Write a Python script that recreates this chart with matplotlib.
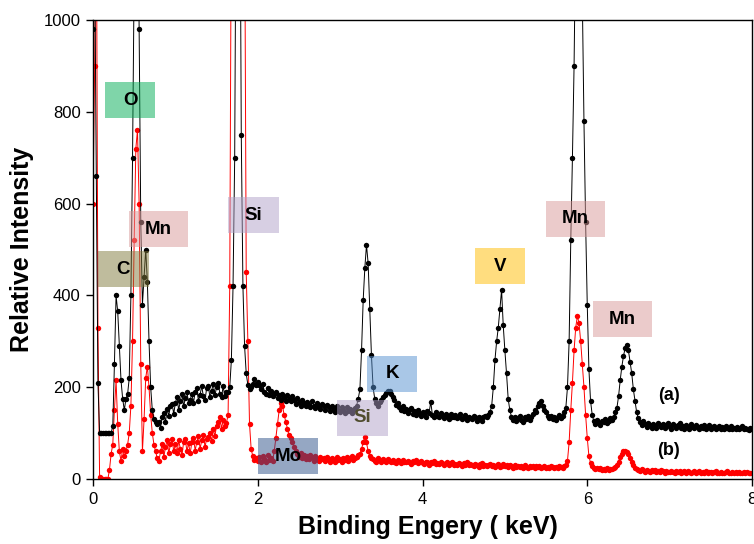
import numpy as np
import matplotlib.pyplot as plt
from matplotlib.patches import Rectangle

plt.rcParams['font.family'] = ['Liberation Sans', 'DejaVu Sans']

# channel energies (keV), one every 0.02 keV
energy = np.round(np.arange(0, 8.001, 0.02), 2)

# spectrum (a) - black, 10 channels per row (0.2 keV)
counts_a = [
    980, 1150, 660, 210, 100, 100, 100, 100, 100, 100,      # 0.0
    100, 100, 115, 250, 400, 365, 290, 215, 175, 150,       # 0.2
    175, 185, 220, 400, 700, 1100, 1600, 1400, 980, 560,    # 0.4
    380, 440, 500, 430, 300, 200, 150, 130, 125, 120,       # 0.6
    125, 112, 136, 144, 124, 152, 138, 160, 164, 142,       # 0.8
    166, 178, 150, 170, 186, 158, 176, 190, 166, 172,       # 1.0
    186, 166, 190, 198, 170, 184, 202, 180, 172, 198,       # 1.2
    202, 178, 192, 208, 182, 200, 210, 186, 178, 202,       # 1.4
    180, 190, 190, 200, 260, 420, 700, 1400, 2200, 1500,    # 1.6
    750, 420, 290, 230, 205, 195, 200, 208, 218, 205,       # 1.8
    212, 204, 196, 208, 190, 186, 198, 184, 192, 180,       # 2.0
    186, 190, 176, 182, 172, 186, 178, 170, 182, 174,       # 2.2
    170, 180, 172, 164, 176, 168, 160, 172, 166, 158,       # 2.4
    168, 162, 156, 170, 160, 154, 166, 160, 152, 164,       # 2.6
    158, 150, 162, 156, 148, 160, 152, 146, 158, 150,       # 2.8
    146, 156, 150, 144, 156, 148, 152, 144, 150, 154,       # 3.0
    160, 175, 195, 280, 390, 460, 510, 470, 370, 270,       # 3.2
    200, 175, 165, 160, 168, 172, 178, 182, 188, 192,       # 3.4
    192, 186, 178, 172, 162, 166, 156, 150, 158, 148,       # 3.6
    152, 144, 150, 154, 142, 148, 140, 150, 144, 138,       # 3.8
    146, 142, 136, 148, 144, 168, 140, 134, 146, 138,       # 4.0
    136, 144, 140, 132, 142, 138, 130, 142, 136, 134,       # 4.2
    140, 132, 136, 142, 130, 134, 140, 128, 136, 132,       # 4.4
    130, 138, 134, 126, 136, 132, 126, 134, 138, 136,       # 4.6
    140, 145, 160, 200, 260, 300, 330, 370, 412, 335,       # 4.8
    280, 230, 175, 150, 136, 128, 134, 126, 132, 138,       # 5.0
    128, 124, 134, 130, 138, 128, 136, 142, 150, 146,       # 5.2
    158, 166, 170, 160, 150, 146, 138, 132, 138, 130,       # 5.4
    136, 128, 134, 140, 132, 138, 145, 155, 200, 300,       # 5.6
    520, 700, 900, 1200, 1500, 1500, 1300, 1050, 780, 560,  # 5.8
    380, 240, 170, 140, 126, 120, 128, 122, 118, 126,       # 6.0
    124, 130, 122, 126, 132, 128, 135, 145, 155, 180,       # 6.2
    215, 245, 268, 285, 292, 280, 255, 230, 195, 170,       # 6.4
    145, 132, 124, 118, 126, 120, 114, 122, 118, 112,       # 6.6
    120, 116, 112, 122, 118, 114, 120, 112, 118, 122,       # 6.8
    114, 110, 120, 116, 112, 118, 122, 112, 116, 110,       # 7.0
    118, 114, 110, 120, 114, 112, 118, 114, 108, 116,       # 7.2
    112, 118, 110, 114, 118, 108, 114, 116, 110, 112,       # 7.4
    116, 110, 114, 108, 116, 112, 110, 116, 108, 112,       # 7.6
    110, 114, 108, 112, 116, 108, 112, 110, 106, 112,       # 7.8
    110,
]

# spectrum (b) - red
counts_b = [
    600, 900, 1300, 330, 5, 0, 0, 0, 0, 0,                  # 0.0
    20, 55, 75, 150, 215, 120, 60, 40, 65, 50,              # 0.2
    60, 75, 100, 160, 300, 520, 720, 760, 600, 250,         # 0.4
    60, 130, 220, 245, 200, 140, 100, 75, 60, 45,           # 0.6
    40, 60, 76, 48, 70, 84, 56, 76, 88, 60,                 # 0.8
    76, 56, 84, 66, 52, 80, 88, 60, 78, 56,                 # 1.0
    80, 90, 62, 80, 94, 66, 84, 96, 70, 88,                 # 1.2
    92, 100, 82, 108, 94, 116, 124, 134, 110, 128,          # 1.4
    115, 122, 140, 420, 1300, 1800, 2100, 2200, 2200, 2000, # 1.6
    1800, 1500, 1300, 450, 300, 120, 65, 50, 42, 45,        # 1.8
    40, 48, 36, 50, 44, 38, 52, 42, 46, 40,                 # 2.0
    60, 90, 120, 150, 165, 160, 140, 125, 110, 95,          # 2.2
    90, 80, 70, 60, 55, 48, 56, 46, 52, 44,                 # 2.4
    50, 44, 52, 48, 40, 50, 44, 40, 48, 44,                 # 2.6
    46, 40, 48, 44, 38, 46, 42, 38, 48, 42,                 # 2.8
    44, 38, 46, 42, 48, 40, 45, 50, 42, 46,                 # 3.0
    48, 52, 55, 65, 80, 92, 80, 60, 50, 46,                 # 3.2
    44, 40, 38, 46, 42, 36, 44, 40, 37, 43,                 # 3.4
    40, 36, 42, 38, 34, 41, 39, 35, 42, 37,                 # 3.6
    36, 40, 38, 33, 39, 36, 41, 34, 37, 39,                 # 3.8
    35, 32, 38, 36, 31, 37, 34, 39, 33, 35,                 # 4.0
    32, 36, 34, 30, 35, 37, 31, 34, 36, 30,                 # 4.2
    33, 30, 35, 32, 29, 34, 31, 36, 30, 32,                 # 4.4
    31, 28, 33, 30, 27, 32, 34, 29, 31, 28,                 # 4.6
    30, 33, 28, 31, 26, 30, 33, 27, 29, 32,                 # 4.8
    28, 30, 26, 31, 28, 25, 30, 27, 29, 26,                 # 5.0
    28, 25, 30, 27, 24, 29, 26, 28, 25, 29,                 # 5.2
    26, 28, 24, 27, 29, 24, 27, 25, 28, 26,                 # 5.4
    24, 27, 25, 28, 26, 25, 28, 30, 40, 80,                 # 5.6
    150, 210, 280, 330, 355, 340, 300, 250, 200, 140,       # 5.8
    90, 50, 35, 28, 24, 22, 25, 21, 23, 20,                 # 6.0
    22, 19, 23, 20, 21, 22, 24, 27, 31, 38,                 # 6.2
    48, 55, 60, 62, 58, 55, 45, 38, 30, 25,                 # 6.4
    22, 20, 17, 21, 19, 16, 20, 18, 15, 19,                 # 6.6
    17, 20, 16, 18, 15, 19, 17, 14, 18, 16,                 # 6.8
    15, 18, 16, 13, 17, 15, 18, 14, 16, 17,                 # 7.0
    14, 17, 15, 13, 16, 18, 14, 15, 17, 13,                 # 7.2
    16, 14, 17, 13, 15, 16, 12, 15, 17, 14,                 # 7.4
    13, 16, 14, 12, 15, 17, 13, 14, 16, 12,                 # 7.6
    15, 13, 16, 12, 14, 16, 13, 15, 12, 14,                 # 7.8
    14,
]

# element labels and their boxes (data coords)
elements = ['O', 'Mn', 'C', 'Si', 'K', 'Si', 'Mo', 'V', 'Mn', 'Mn']
box_x0 = [0.15, 0.44, 0.06, 1.64, 3.33, 2.96, 2.00, 4.64, 5.50, 6.07]
box_x1 = [0.75, 1.15, 0.68, 2.26, 3.93, 3.58, 2.73, 5.24, 6.22, 6.79]
box_y0 = [786, 505, 418, 536, 190, 94, 11, 425, 527, 309]
box_y1 = [865, 584, 497, 614, 268, 172, 89, 503, 606, 388]
box_colors = ['#01AD55', '#D99999', '#817A3D', '#B1A1C9', '#5591D1',
              '#B1A1C9', '#2D5189', '#FFBD01', '#D99999', '#D99999']
text_colors = ['black'] * 5 + ['#4f4c2e'] + ['black'] * 4

fig = plt.figure(figsize=(7.54, 5.44), dpi=100)
ax = fig.add_axes([93 / 754, 1 - 479 / 544, (752 - 93) / 754, (479 - 20) / 544])

ax.plot(energy, counts_b, '-o', color='red', lw=0.7, ms=3.9, mew=0, zorder=2)
ax.plot(energy, counts_a, '-o', color='black', lw=0.7, ms=3.9, mew=0, zorder=2)

for lab, x0, x1, y0, y1, fc, tc in zip(elements, box_x0, box_x1, box_y0, box_y1,
                                       box_colors, text_colors):
    ax.add_patch(Rectangle((x0, y0), x1 - x0, y1 - y0, facecolor=fc,
                           edgecolor='none', alpha=0.5, zorder=3))
    ax.text((x0 + x1) / 2, (y0 + y1) / 2, lab, ha='center', va='center',
            fontsize=13.5, fontweight='bold', color=tc, zorder=4)

ax.text(6.99, 183, '(a)', ha='center', va='center', fontsize=13, fontweight='bold')
ax.text(6.99, 63, '(b)', ha='center', va='center', fontsize=13, fontweight='bold')

ax.set_xlim(0, 8)
ax.set_ylim(0, 1000)
ax.set_xticks([0, 2, 4, 6, 8])
ax.set_yticks([0, 200, 400, 600, 800, 1000])
ax.tick_params(direction='out', length=5, width=1, labelsize=12, pad=4)
for s in ax.spines.values():
    s.set_linewidth(1.0)

fig.text(428 / 754, 1 - 527 / 544, 'Binding Engery ( keV)', ha='center', va='center',
         fontsize=18, fontweight='bold')
fig.text(22 / 754, 1 - 249 / 544, 'Relative Intensity', ha='center', va='center',
         rotation=90, fontsize=18, fontweight='bold')

fig.savefig('out.png', dpi=100)
